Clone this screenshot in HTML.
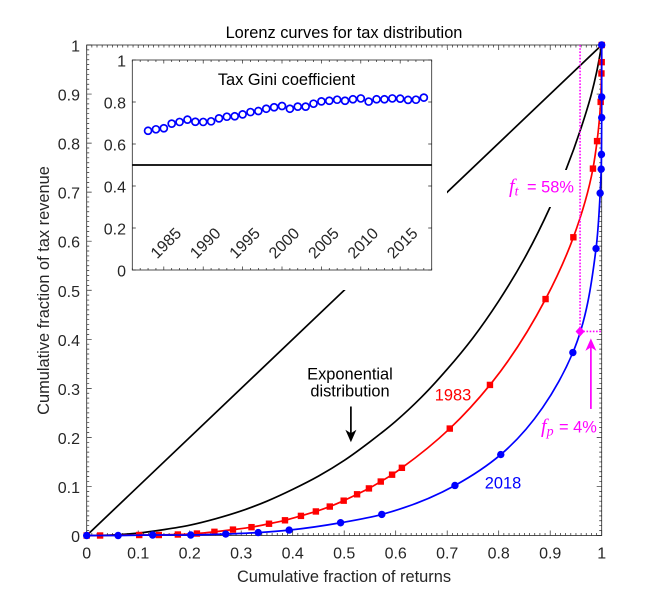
<!DOCTYPE html>
<html>
<head>
<meta charset="utf-8">
<style>
html,body{margin:0;padding:0;background:#fff;width:664px;height:602px;overflow:hidden}
svg{display:block;font-family:"Liberation Sans",sans-serif}
</style>
</head>
<body>
<svg id="chart" width="664" height="602" viewBox="0 0 664 602" xmlns="http://www.w3.org/2000/svg">
<rect width="664" height="602" fill="#fff"/>
<g id="main-ticks"></g>
<g id="main-labels"></g>
<g id="curves"></g>
<rect x="100" y="48" width="347" height="242" fill="#fff"/>
<rect x="505" y="170" width="70" height="37" fill="#fff"/>
<g id="ft-dotted"></g>
<rect id="inset-frame" fill="none" stroke="#262626" stroke-width="0.8"/>
<g id="inset"></g>
<text x="344" y="38" font-size="16.4" text-anchor="middle" fill="#000">Lorenz curves for tax distribution</text>
<text x="344" y="582" font-size="16.4" text-anchor="middle" fill="#262626">Cumulative fraction of returns</text>
<text transform="translate(49,290.5) rotate(-90)" font-size="16.4" text-anchor="middle" fill="#262626">Cumulative fraction of tax revenue</text>
<text x="286.5" y="85" font-size="16.4" text-anchor="middle" fill="#000">Tax Gini coefficient</text>
<text x="350" y="379.5" font-size="16.4" text-anchor="middle" fill="#000">Exponential</text>
<text x="350" y="396.7" font-size="16.4" text-anchor="middle" fill="#000">distribution</text>
<text x="453" y="400.5" font-size="16.4" text-anchor="middle" fill="#ff0000">1983</text>
<text x="503" y="488.5" font-size="16.4" text-anchor="middle" fill="#0000ff">2018</text>
<text y="192.3" font-size="16.4" fill="#ff00ff"><tspan x="509" font-family="'Liberation Serif',serif" font-style="italic" font-size="20">f</tspan><tspan font-family="'Liberation Serif',serif" font-style="italic" font-size="14" dy="3">t</tspan><tspan x="527" dy="-3">= 58%</tspan></text>
<text y="432.7" font-size="16.4" fill="#ff00ff"><tspan x="541" font-family="'Liberation Serif',serif" font-style="italic" font-size="20">f</tspan><tspan font-family="'Liberation Serif',serif" font-style="italic" font-size="14" dy="3">p</tspan><tspan x="559" dy="-3">= 4%</tspan></text>
</svg>
<script>
// Main chart data
const mainTickLabels = ["0","0.1","0.2","0.3","0.4","0.5","0.6","0.7","0.8","0.9","1"];
const mainTickValues = [0,0.1,0.2,0.3,0.4,0.5,0.6,0.7,0.8,0.9,1];
const diagonalX = [0,1];
const diagonalY = [0,1];
const exponentialX = [0,0.05,0.1,0.15,0.2,0.25,0.3,0.35,0.4,0.45,0.5,0.55,0.6,0.65,0.7,0.75,0.8,0.85,0.9,0.93,0.96,0.98,0.99,1];
const exponentialY = [0,0.001,0.005,0.012,0.021,0.034,0.05,0.07,0.094,0.121,0.153,0.191,0.233,0.282,0.339,0.403,0.478,0.565,0.67,0.744,0.831,0.9,0.944,1];
const x1983 = [0,0.026,0.102,0.14,0.177,0.214,0.248,0.284,0.32,0.354,0.385,0.416,0.445,0.472,0.499,0.525,0.548,0.571,0.593,0.612,0.705,0.783,0.891,0.945,0.983,0.991,0.998,0.9995,1,1];
const y1983 = [0,0,0.001,0.001,0.002,0.004,0.0075,0.012,0.017,0.024,0.031,0.04,0.049,0.059,0.071,0.084,0.096,0.11,0.124,0.138,0.218,0.307,0.482,0.608,0.748,0.804,0.884,0.942,0.965,1];
const x2018 = [0,0.061,0.128,0.202,0.27,0.333,0.393,0.493,0.573,0.715,0.804,0.944,0.989,0.997,0.999,0.9995,1,1,1];
const y2018 = [0,0,0.001,0.001,0.003,0.006,0.011,0.026,0.043,0.102,0.165,0.373,0.585,0.698,0.747,0.777,0.852,0.894,1];
const crossoverX = [0.958];
const crossoverY = [0.416];
// Inset data
const giniYears = [1983,1984,1985,1986,1987,1988,1989,1990,1991,1992,1993,1994,1995,1996,1997,1998,1999,2000,2001,2002,2003,2004,2005,2006,2007,2008,2009,2010,2011,2012,2013,2014,2015,2016,2017,2018];
const giniValues = [0.663,0.670,0.675,0.697,0.705,0.716,0.706,0.705,0.708,0.722,0.730,0.732,0.741,0.752,0.757,0.768,0.775,0.781,0.768,0.778,0.778,0.792,0.803,0.806,0.811,0.806,0.813,0.817,0.802,0.813,0.813,0.817,0.816,0.810,0.811,0.821];
const insetYearTicks = [1985,1990,1995,2000,2005,2010,2015];
const insetYearLabels = ["1985","1990","1995","2000","2005","2010","2015"];
const insetValueTicks = [0,0.2,0.4,0.6,0.8,1];
const insetValueLabels = ["0","0.2","0.4","0.6","0.8","1"];
const insetReference = [0.5];

const NS = "http://www.w3.org/2000/svg";
const AX = "#262626";
const mL = 86.7, mR = 601.7, mT = 45, mB = 535.5;
const iL = 132.3, iR = 431.7, iT = 60, iB = 270;
const sx = v => mL + v * (mR - mL);
const sy = v => mB - v * (mB - mT);
const ix = v => iL + (v - 1981) * (iR - iL) / 38;
const iy = v => iB - v * (iB - iT);

function mk(tag, attrs, parent) {
  const e = document.createElementNS(NS, tag);
  for (const k in attrs) e.setAttribute(k, attrs[k]);
  parent.appendChild(e);
  return e;
}
function smoothPath(xs, ys) {
  const pts = xs.map((x, i) => [sx(x), sy(ys[i])]);
  const n = pts.length;
  const dist = (a, b) => Math.max(Math.hypot(b[0] - a[0], b[1] - a[1]), 1e-3);
  const tan = pts.map((p, i) => {
    if (i === 0) { const d = dist(p, pts[1]); return [(pts[1][0] - p[0]) / d, (pts[1][1] - p[1]) / d]; }
    if (i === n - 1) { const d = dist(pts[n - 2], p); return [(p[0] - pts[n - 2][0]) / d, (p[1] - pts[n - 2][1]) / d]; }
    const d1 = dist(pts[i - 1], p), d2 = dist(p, pts[i + 1]);
    const w = d1 + d2;
    return [
      ((p[0] - pts[i - 1][0]) / d1 * d2 + (pts[i + 1][0] - p[0]) / d2 * d1) / w,
      ((p[1] - pts[i - 1][1]) / d1 * d2 + (pts[i + 1][1] - p[1]) / d2 * d1) / w
    ];
  });
  let d = "M" + pts[0][0].toFixed(2) + " " + pts[0][1].toFixed(2);
  for (let i = 0; i < n - 1; i++) {
    const p1 = pts[i], p2 = pts[i + 1];
    const s = dist(p1, p2) / 3;
    const c1x = Math.min(p1[0] + tan[i][0] * s, sx(1));
    const c2x = Math.min(p2[0] - tan[i + 1][0] * s, sx(1));
    d += " C" + c1x.toFixed(2) + " " + (p1[1] + tan[i][1] * s).toFixed(2) + " " +
         c2x.toFixed(2) + " " + (p2[1] - tan[i + 1][1] * s).toFixed(2) + " " +
         p2[0].toFixed(2) + " " + p2[1].toFixed(2);
  }
  return d;
}

// Main axis frame and ticks
const tickG = document.getElementById("main-ticks");
const frame = mk("rect", {x: mL, y: mT, width: mR - mL, height: mB - mT, fill: "none", stroke: AX, "stroke-width": 0.8}, tickG);


for (let i = 0; i <= 100; i++) {
  const v = i / 100;
  const len = i % 10 === 0 ? 5 : 2.5;
  const t = mk("path", {
    d: "M" + sx(v) + " " + mB + "v" + (-len) + "M" + sx(v) + " " + mT + "v" + len +
       "M" + mL + " " + sy(v) + "h" + len + "M" + mR + " " + sy(v) + "h" + (-len),
    stroke: AX, "stroke-width": 0.7, fill: "none"}, tickG);
  
  
}
const labG = document.getElementById("main-labels");
mainTickValues.forEach((v, i) => {
  const a = mk("text", {x: sx(v), y: 558.5, "font-size": 16, "text-anchor": "middle", fill: AX}, labG);
  a.textContent = mainTickLabels[i];
  
  
  const b = mk("text", {x: 80, y: sy(v) + 6.5, "font-size": 16, "text-anchor": "end", fill: AX}, labG);
  b.textContent = mainTickLabels[i];
  
  
});

// Curves
const cG = document.getElementById("curves");
const diag = mk("path", {d: "M" + sx(diagonalX[0]) + " " + sy(diagonalY[0]) + "L" + sx(diagonalX[1]) + " " + sy(diagonalY[1]), stroke: "#000", "stroke-width": 1.7, fill: "none"}, cG);


const expo = mk("path", {d: smoothPath(exponentialX, exponentialY), stroke: "#000", "stroke-width": 1.7, fill: "none"}, cG);


const red = mk("path", {d: smoothPath(x1983, y1983), stroke: "#ff0000", "stroke-width": 1.7, fill: "none"}, cG);


x1983.forEach((x, i) => {
  const m = mk("rect", {x: sx(x) - 3.2, y: sy(y1983[i]) - 3.2, width: 6.4, height: 6.4, fill: "#ff0000"}, cG);
  
  
});
const blue = mk("path", {d: smoothPath(x2018, y2018), stroke: "#0000ff", "stroke-width": 1.7, fill: "none"}, cG);


x2018.forEach((x, i) => {
  const m = mk("circle", {cx: sx(x), cy: sy(y2018[i]), r: 3.7, fill: "#0000ff"}, cG);
  
  
});

// Annotation arrows
function arrow(x, yFrom, yTo, color, w, name) {
  const g = mk("g", {}, cG);
  
  
  const px = sx(x), a = sy(yFrom), b = sy(yTo);
  const dir = b > a ? -1 : 1;
  mk("path", {d: "M" + px + " " + a + "L" + px + " " + (b + dir * 6), stroke: color, "stroke-width": w, fill: "none"}, g);
  mk("path", {d: "M" + px + " " + b + "L" + (px - 5.5) + " " + (b + dir * 12.5) + "L" + px + " " + (b + dir * 9) + "L" + (px + 5.5) + " " + (b + dir * 12.5) + "Z", fill: color}, g);
}
arrow(0.513, 0.263, 0.19, "#000", 1.7, "exponential-arrow");
arrow(0.979, 0.258, 0.402, "#ff00ff", 1.7, "fp-arrow");

// Magenta guides
const gG = document.getElementById("ft-dotted");
const vg = mk("path", {d: "M" + sx(crossoverX[0]) + " " + sy(1) + "V" + sy(crossoverY[0]), stroke: "#ff00ff", "stroke-width": 1.6, "stroke-dasharray": "1.6 1.6", fill: "none"}, gG);


const hg = mk("path", {d: "M" + sx(crossoverX[0]) + " " + sy(crossoverY[0]) + "H" + sx(1), stroke: "#ff00ff", "stroke-width": 1.6, "stroke-dasharray": "1.6 1.6", fill: "none"}, gG);


const dx = sx(crossoverX[0]), dy = sy(crossoverY[0]);
const dia = mk("path", {d: "M" + dx + " " + (dy - 5) + "l4.5 5l-4.5 5l-4.5 -5Z", fill: "#ff00ff"}, gG);



// Inset
const fr = document.getElementById("inset-frame");
fr.setAttribute("x", iL); fr.setAttribute("y", iT);
fr.setAttribute("width", iR - iL); fr.setAttribute("height", iB - iT);
const iG = document.getElementById("inset");
for (let yr = 1981; yr <= 2019; yr++) {
  const len = (yr % 5 === 0) ? 3.5 : 2;
  const t = mk("path", {d: "M" + ix(yr) + " " + iB + "v" + (-len) + "M" + ix(yr) + " " + iT + "v" + len, stroke: AX, "stroke-width": 0.7, fill: "none"}, iG);
  
  
}
insetValueTicks.forEach((v, i) => {
  const t = mk("path", {d: "M" + iL + " " + iy(v) + "h3.5M" + iR + " " + iy(v) + "h-3.5", stroke: AX, "stroke-width": 0.7, fill: "none"}, iG);
  
  
  const l = mk("text", {x: 126, y: iy(v) + 6.5, "font-size": 16, "text-anchor": "end", fill: AX}, iG);
  l.textContent = insetValueLabels[i];
  
  
});
insetYearTicks.forEach((yr, i) => {
  const cx = ix(yr) + 2, cy = 243;
  const l = mk("text", {transform: "translate(" + cx + "," + cy + ") rotate(-45)", y: 5.5, "font-size": 16, "text-anchor": "middle", fill: AX}, iG);
  l.textContent = insetYearLabels[i];
  
  
});
const ref = mk("path", {d: "M" + iL + " " + iy(insetReference[0]) + "H" + iR, stroke: "#000", "stroke-width": 1.7, fill: "none"}, iG);


giniYears.forEach((yr, i) => {
  const c = mk("circle", {cx: ix(yr), cy: iy(giniValues[i]), r: 3.5, fill: "none", stroke: "#0000ff", "stroke-width": 1.7}, iG);
  
  
});
</script>
</body>
</html>
